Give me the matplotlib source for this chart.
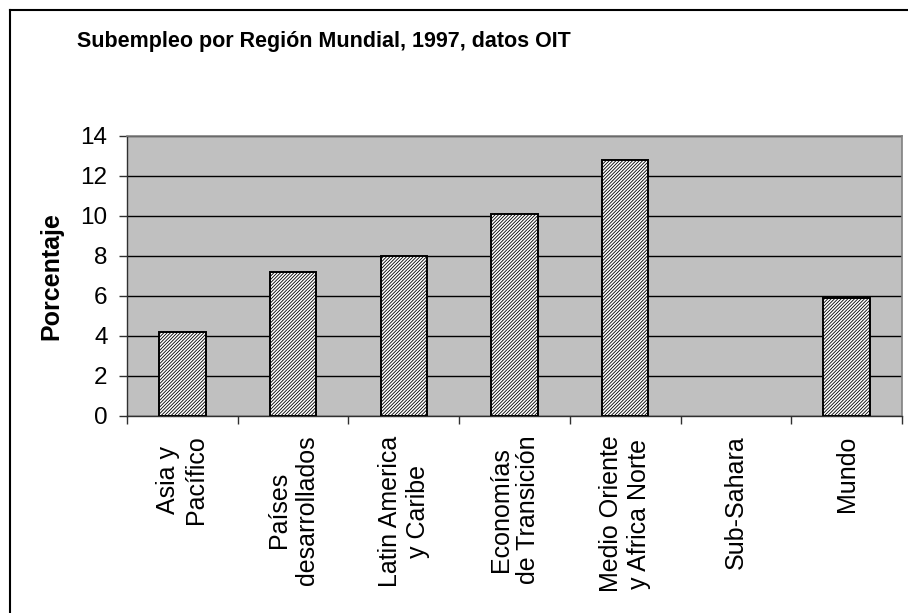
import matplotlib
matplotlib.use("Agg")
import matplotlib.pyplot as plt
from matplotlib.lines import Line2D
import numpy as np

plt.rcParams['font.family'] = ['Liberation Sans', 'DejaVu Sans']
plt.rcParams['hatch.linewidth'] = 0.6

# datos
regiones = ["Asia y\nPacífico", "Países\ndesarrollados", "Latin America\ny Caribe",
            "Economías\nde Transición", "Medio Oriente\ny Africa Norte", "Sub-Sahara", "Mundo"]
subempleo = [4.2, 7.2, 8.0, 10.1, 12.8, 0, 5.9]
yticks = [0, 2, 4, 6, 8, 10, 12, 14]

fig = plt.figure(figsize=(9.08, 6.13), dpi=100)
ax = fig.add_axes([127 / 908, 1 - 416 / 613, 775 / 908, 280 / 613])
ax.set_facecolor('#C0C0C0')

x = np.arange(len(regiones))
vals = np.array(subempleo, dtype=float)
con_dato = vals > 0  # Sub-Sahara sin dato
ax.bar(x[con_dato], vals[con_dato], width=0.42, color='white', edgecolor='black',
       hatch='//////////', linewidth=1.4, zorder=3)

ax.set_xlim(-0.5, len(regiones) - 0.5)
ax.set_ylim(0, 14)
ax.set_yticks(yticks)
ax.yaxis.grid(True, color='black', linewidth=1.0)
ax.set_axisbelow(True)

ax.set_xticks(x)
ax.set_xticklabels(regiones, rotation=90, fontsize=18, va='top', ha='center',
                   multialignment='center')
ax.set_xticks(np.arange(-0.5, len(regiones)), minor=True)
ax.tick_params(axis='x', which='major', length=0, pad=14)
ax.tick_params(axis='x', which='minor', length=6, width=1, color='#303030')
ax.tick_params(axis='y', length=6, width=1, color='#303030', labelsize=17.5, pad=8)

for s in ['top', 'right']:
    ax.spines[s].set_color('#808080')
    ax.spines[s].set_linewidth(1.2)
for s in ['left', 'bottom']:
    ax.spines[s].set_color('#303030')
    ax.spines[s].set_linewidth(1.0)

ax.set_ylabel("Porcentaje", fontsize=18, fontweight='bold', labelpad=12)

fig.text(77 / 908, 1 - 47 / 613, "Subempleo por Región Mundial, 1997, datos OIT",
         fontsize=15.5, fontweight='bold', ha='left', va='baseline')

# borde del gráfico (solo izquierda y arriba visibles)
fig.add_artist(Line2D([10 / 908, 10 / 908], [0, 1 - 10 / 613], color='black',
                      linewidth=1.5, transform=fig.transFigure))
fig.add_artist(Line2D([10 / 908, 1], [1 - 10 / 613, 1 - 10 / 613], color='black',
                      linewidth=1.5, transform=fig.transFigure))

fig.savefig("out.png", dpi=100)
